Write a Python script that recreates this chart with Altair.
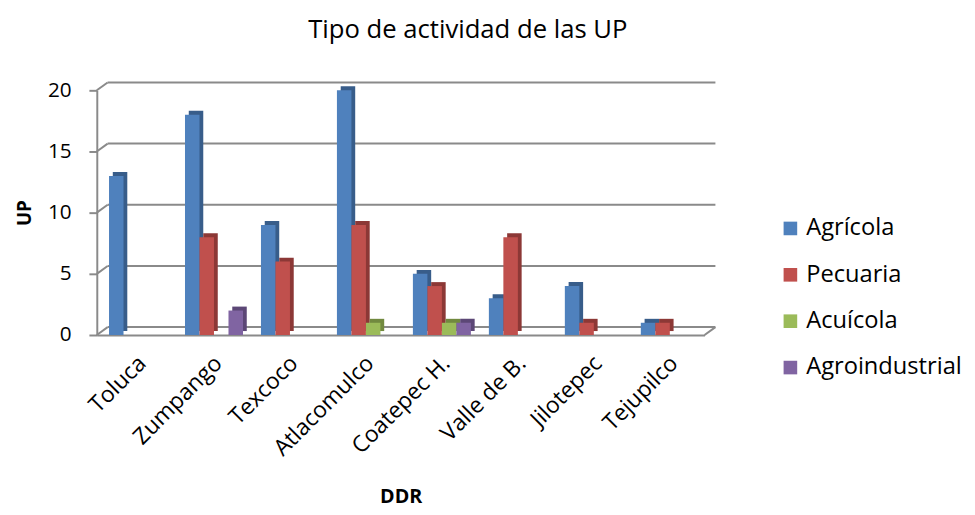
import altair as alt
import pandas as pd

categories = ["Toluca", "Zumpango", "Texcoco", "Atlacomulco", "Coatepec H.", "Valle de B.", "Jilotepec", "Tejupilco"]
series = ["Agrícola", "Pecuaria", "Acuícola", "Agroindustrial"]
agricola = [13, 18, 9, 20, 5, 3, 4, 1]
pecuaria = [0, 8, 6, 9, 4, 8, 1, 1]
acuicola = [0, 0, 0, 1, 1, 0, 0, 0]
agroindustrial = [0, 2, 0, 0, 1, 0, 0, 0]
y_ticks = [0, 5, 10, 15, 20]

colors = ["#4F81BD", "#C0504D", "#9BBB59", "#8064A2"]
side_colors = ["#385D8A", "#8C3836", "#71893F", "#5C4776"]

rows = []
for s, vals in zip(series, [agricola, pecuaria, acuicola, agroindustrial]):
    for c, v in zip(categories, vals):
        rows.append({"DDR": c, "Tipo": s, "UP": v})
df = pd.DataFrame(rows)
df_bars = df[df["UP"] > 0]
df_ticks = pd.DataFrame({"UP": y_ticks})

FONT = "Open Sans"
GRID = "#8a8a8a"
W, H = 616, 248
DX, DY = 11, -8  # depth of the back wall

yscale = alt.Scale(domain=[0, 20])
xscale = alt.Scale(domain=categories, paddingInner=0, paddingOuter=0)

y_axis = alt.Axis(values=y_ticks, grid=False, labelFontSize=21,
                  labelFont=FONT, labelColor="#000", titleFontSize=19,
                  titleFont=FONT, titleFontWeight="bold", titleColor="#000",
                  domainColor=GRID, domainWidth=2, tickColor=GRID,
                  tickWidth=2, tickSize=8, labelPadding=18, titlePadding=13)
x_axis = alt.Axis(labelAngle=-45, labelFontSize=23, labelFont=FONT,
                  labelColor="#000", titleFontSize=20, titleFont=FONT,
                  titleFontWeight="bold", titleColor="#000",
                  domainColor=GRID, domainWidth=2, ticks=False,
                  labelPadding=17, titlePadding=27)

Y = alt.Y("UP:Q", title="UP", scale=yscale, axis=y_axis)

# back wall grid lines
grid = alt.Chart(df_ticks).mark_rule(color=GRID, strokeWidth=2, yOffset=DY).encode(
    x=alt.value(DX), x2=alt.value(W + DX), y=Y,
)
# diagonal connectors from the axis to the back wall
diag = alt.Chart(df_ticks).mark_rule(color=GRID, strokeWidth=2, y2Offset=DY).encode(
    x=alt.value(0), x2=alt.value(DX), y=Y, y2="UP:Q",
)
# floor right edge
floor = alt.Chart(df_ticks[df_ticks["UP"] == 0]).mark_rule(color=GRID, strokeWidth=2, y2Offset=DY).encode(
    x=alt.value(W), x2=alt.value(W + DX), y=Y, y2="UP:Q",
)

X = alt.X("DDR:N", sort=categories, scale=xscale, title="DDR", axis=x_axis)

# side / top faces (darker, shifted back)
side = alt.Chart(df_bars).mark_bar(yOffset=-4).encode(
    x=X,
    xOffset=alt.XOffset("Tipo:N", scale=alt.Scale(domain=series, paddingInner=0, paddingOuter=0.62, align=0.89)),
    y=Y,
    color=alt.Color("Tipo:N", scale=alt.Scale(domain=series, range=side_colors), legend=None),
)

front = alt.Chart(df_bars).mark_bar().encode(
    x=X,
    xOffset=alt.XOffset("Tipo:N", scale=alt.Scale(domain=series, paddingInner=0, paddingOuter=0.62, align=0.68)),
    y=Y,
    color=alt.Color("Tipo:N",
                    scale=alt.Scale(domain=series, range=colors),
                    legend=alt.Legend(title=None, labelFontSize=24, labelFont=FONT,
                                      labelColor="#000", symbolType="square",
                                      symbolSize=190, symbolStrokeWidth=0,
                                      rowPadding=23, orient="none",
                                      legendX=691, legendY=128)),
)

chart = alt.layer(grid, diag, floor, side, front).resolve_scale(
    xOffset="independent", color="independent"
).properties(
    width=W, height=H,
    padding={"left": 7, "top": 6, "right": 5, "bottom": 5},
    title=alt.TitleParams("Tipo de actividad de las UP", fontSize=26, font=FONT,
                          fontWeight="normal", color="#000", offset=37, dx=68),
).configure_view(stroke=None)

chart.save("out.html", embed_options={"renderer": "svg", "actions": False})
